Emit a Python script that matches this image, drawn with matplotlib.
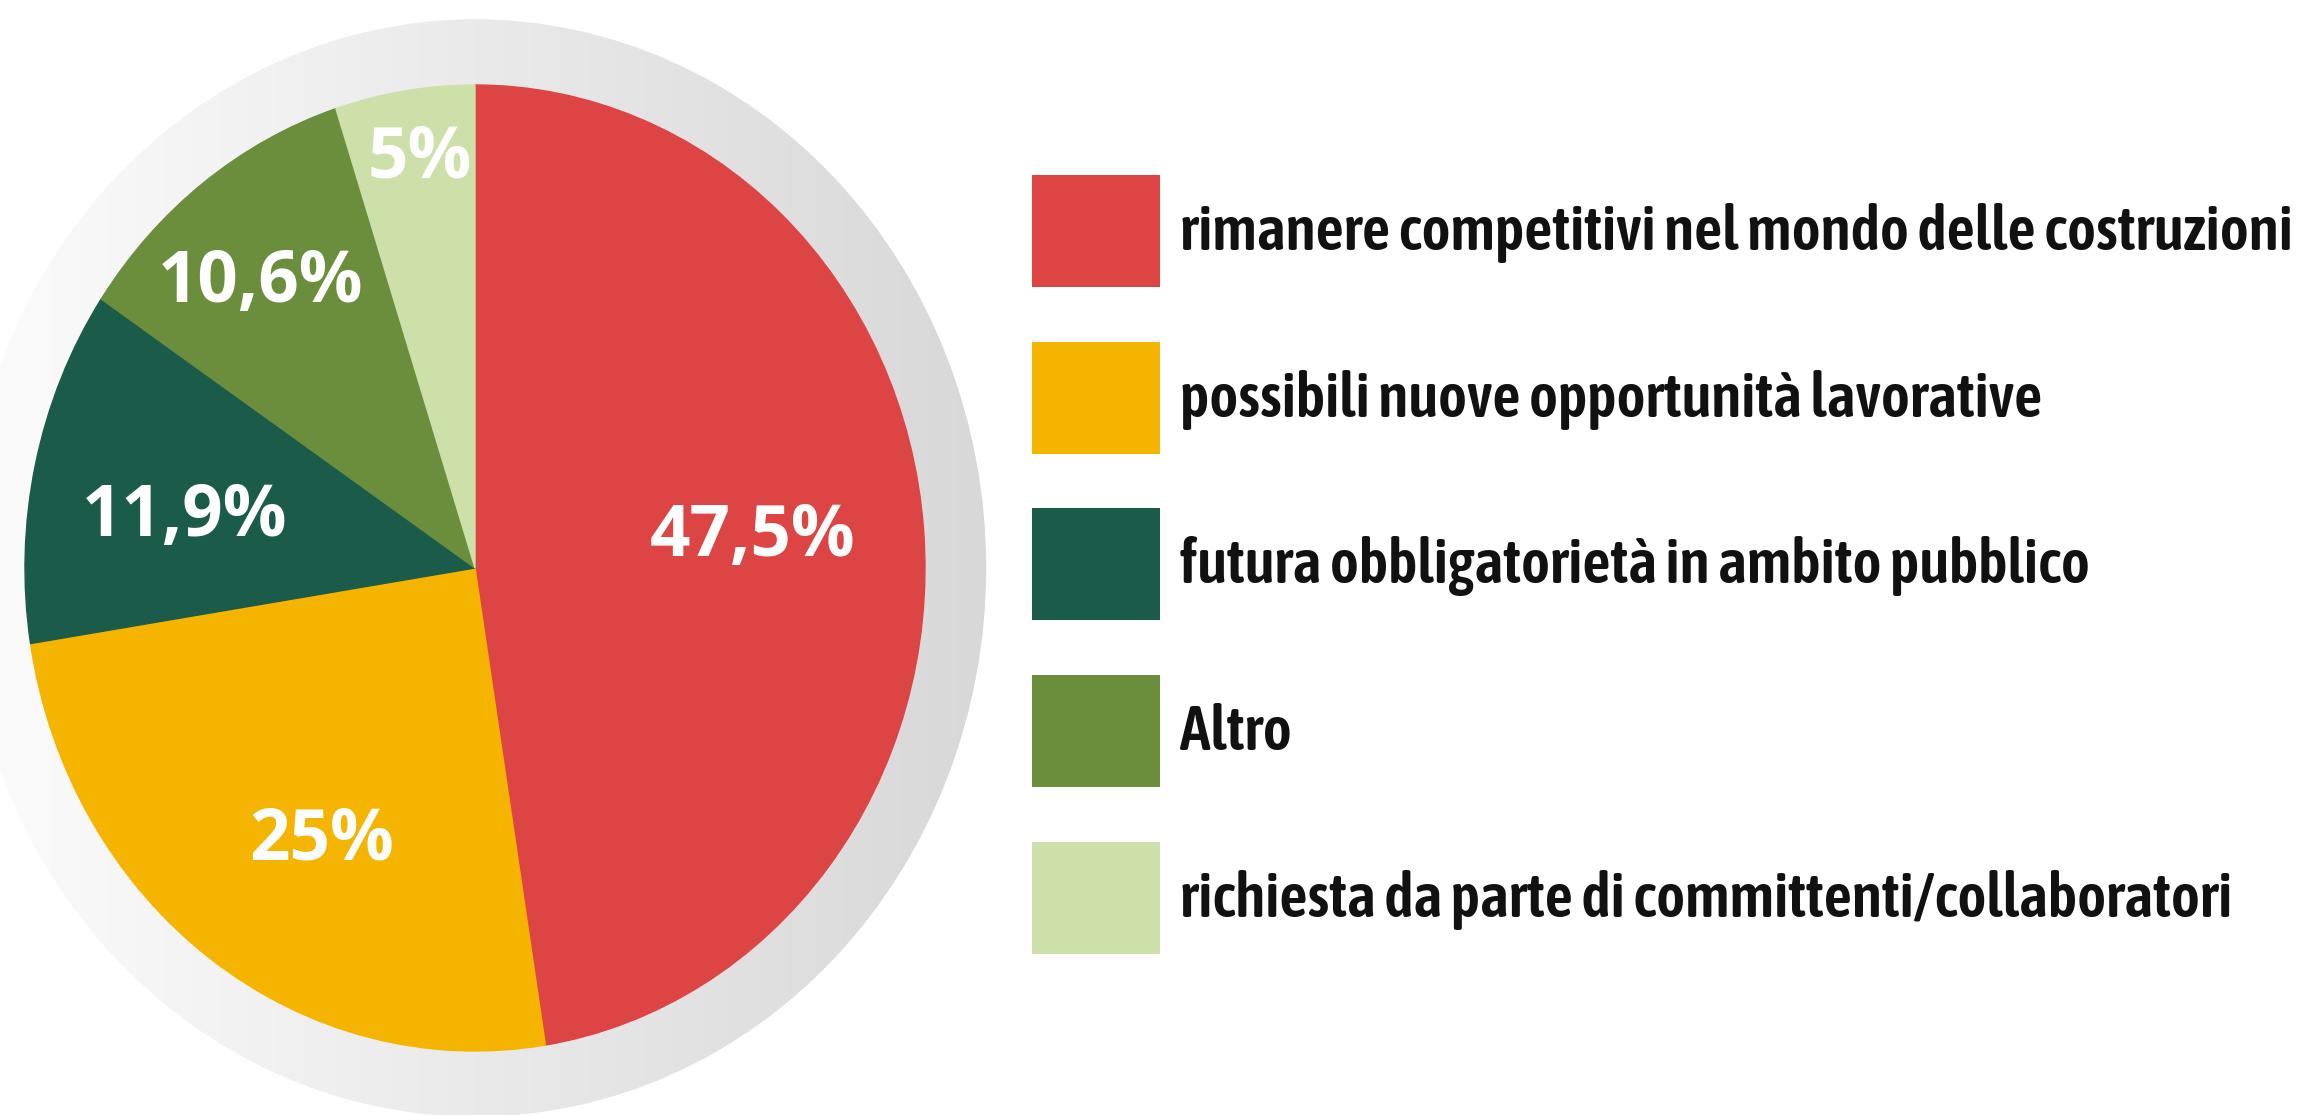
import numpy as np
import matplotlib
matplotlib.use("Agg")
import matplotlib.pyplot as plt
from matplotlib.patches import Circle, Rectangle
import matplotlib.font_manager as fm

# data
categories = [
    "rimanere competitivi nel mondo delle costruzioni",
    "possibili nuove opportunità lavorative",
    "futura obbligatorietà in ambito pubblico",
    "Altro",
    "richiesta da parte di committenti/collaboratori",
]
values = [47.5, 25.0, 11.9, 10.6, 5.0]
value_labels = ["47,5%", "25%", "11,9%", "10,6%", "5%"]
colors = ["#dd4545", "#f4b400", "#1b5b4a", "#6b8e3d", "#cde0aa"]

# label placement: distance from centre (fraction of radius) and angle nudge (deg)
label_dist = [0.62, 0.66, 0.655, 0.758, 0.856]
label_shift = [1.4, 4.9, 3.1, 1.8, -0.7]


def pick_font(names):
    for n in names:
        try:
            fm.findfont(fm.FontProperties(family=n), fallback_to_default=False)
            return n
        except ValueError:
            continue
    return "DejaVu Sans"


def weight_num(w):
    if isinstance(w, str):
        return fm.weight_dict.get(w, 400)
    return w


# prefer a semibold/bold narrow face for the legend if one is installed
narrow_bold = [f for f in fm.fontManager.ttflist
               if ("Narrow" in f.name or "Condensed" in f.name)
               and weight_num(f.weight) >= 600 and f.style == "normal"]
narrow_bold.sort(key=lambda f: (abs(weight_num(f.weight) - 600), f.name))
if narrow_bold:
    legend_prop = fm.FontProperties(fname=narrow_bold[0].fname)
else:
    legend_prop = fm.FontProperties(family=pick_font(["Roboto", "Open Sans", "DejaVu Sans"]),
                                    weight="bold")
pct_font = pick_font(["Open Sans", "Lato", "DejaVu Sans"])

W, H = 2303, 1115
fig = plt.figure(figsize=(W / 100, H / 100), dpi=100)
fig.patch.set_facecolor("white")

# pie axes (pixel geometry of the reference; the pie is slightly oval)
cx, cy = 475, H - 568
rx, ry = 450, 483
ext = 1.2
ax = fig.add_axes([(cx - ext * rx) / W, (cy - ext * ry) / H,
                   2 * ext * rx / W, 2 * ext * ry / H])

# grey halo behind the pie, white on the left fading to grey on the right
R_halo = 1.136
grad = np.linspace(252, 216, 256)[None, :].repeat(2, axis=0) / 255.0
img = ax.imshow(np.dstack([grad, grad, grad]), extent=[-R_halo, R_halo, -R_halo, R_halo],
                aspect="auto", zorder=0, interpolation="bilinear")
img.set_clip_path(Circle((0, 0), R_halo, transform=ax.transData))

wedges, _ = ax.pie(values, colors=colors, startangle=90, counterclock=False,
                   radius=1, wedgeprops=dict(linewidth=1))
for w in wedges:
    w.set_edgecolor(w.get_facecolor())
    w.set_zorder(2)

for w, lab, d, s in zip(wedges, value_labels, label_dist, label_shift):
    ang = np.deg2rad((w.theta1 + w.theta2) / 2 + s)
    ax.text(d * np.cos(ang), d * np.sin(ang), lab, ha="center", va="center",
            color="white", fontsize=51, fontweight="bold", family=pct_font, zorder=3)

ax.set_aspect("auto")
ax.set_xlim(-ext, ext)
ax.set_ylim(-ext, ext)
ax.axis("off")

# legend drawn in pixel space on the right
lax = fig.add_axes([0, 0, 1, 1], zorder=-1)
lax.set_xlim(0, W)
lax.set_ylim(H, 0)
lax.axis("off")

box_x, box_w, box_h = 1032, 128, 112
first_top, step = 175, 166.7
text_x, text_right = 1180, 2290

texts = []
for i, (cat, col) in enumerate(zip(categories, colors)):
    top = first_top + i * step
    lax.add_patch(Rectangle((box_x, top), box_w, box_h, facecolor=col, edgecolor="none"))
    t = lax.text(text_x, top + box_h / 2 + 19, cat, ha="left", va="baseline",
                 fontproperties=legend_prop, fontsize=36, color="#111111")
    texts.append(t)

# size the legend font so the longest line ends where the reference's does
renderer = fig.canvas.get_renderer()
widest = max(t.get_window_extent(renderer).width for t in texts)
size = 36 * (text_right - text_x) / widest
for t in texts:
    t.set_fontsize(size)

fig.savefig("out.png", dpi=100, facecolor="white")
